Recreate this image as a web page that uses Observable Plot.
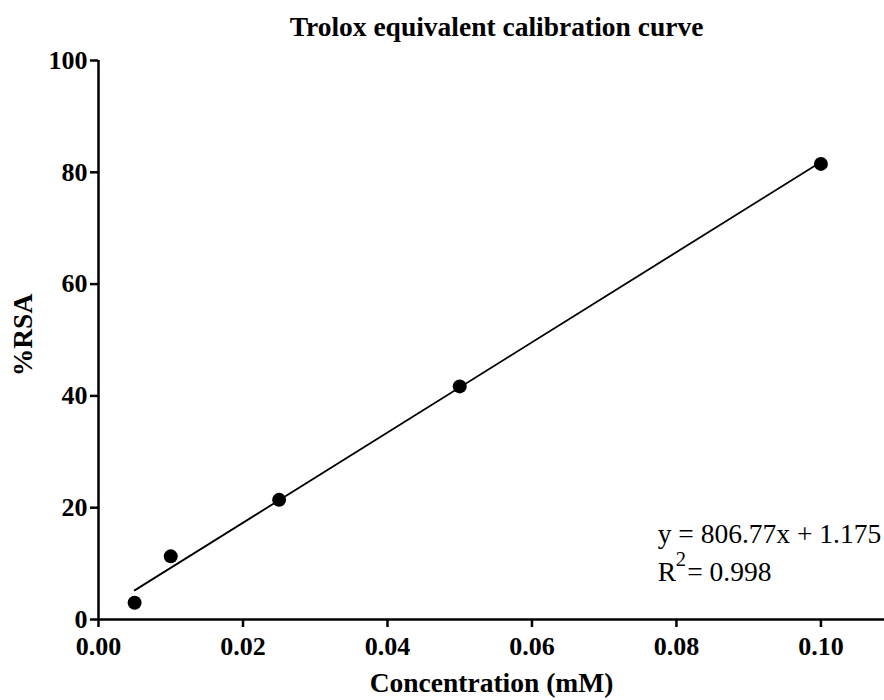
<!DOCTYPE html>
<html>
<head>
<meta charset="utf-8">
<script src="https://cdn.jsdelivr.net/npm/d3@7"></script>
<script src="https://cdn.jsdelivr.net/npm/@observablehq/plot@0.6"></script>
<style>
  body { margin: 0; background: #fff; }
  svg { font-family: "Liberation Serif", "Times New Roman", serif; }
</style>
</head>
<body>
<div id="chart"></div>
<script>
// Data
const concentration = [0.005, 0.01, 0.025, 0.05, 0.1];
const rsa = [3.0, 11.3, 21.4, 41.7, 81.5];
const fitX = [0.005, 0.1];
const fitY = [5.21, 81.85];
const xTicks = [0, 0.02, 0.04, 0.06, 0.08, 0.10];
const yTicks = [0, 20, 40, 60, 80, 100];
const titleText = "Trolox equivalent calibration curve";
const xLabel = "Concentration (mM)";
const yLabel = "%RSA";
const eqLine1 = "y = 806.77x + 1.175";
const eqLine2Parts = ["R", "2", "= 0.998"];

const points = concentration.map((c, i) => ({x: c, y: rsa[i]}));
const fit = fitX.map((c, i) => ({x: c, y: fitY[i]}));

const serif = "Liberation Serif, Times New Roman, serif";
const eqX = 0.0774;

const chart = Plot.plot({
  width: 884,
  height: 700,
  marginLeft: 98,
  marginRight: 0,
  marginTop: 60,
  marginBottom: 81,
  style: {fontFamily: serif, background: "#fff", color: "#000"},
  x: {domain: [0, 0.1088]},
  y: {domain: [0, 100]},
  marks: [
    Plot.axisX({ticks: xTicks, tickFormat: d3.format(".2f"), tickSize: 8, tickPadding: 9,
      fontSize: 26, fontWeight: "bold", strokeWidth: 2.5, label: null}),
    Plot.axisY({ticks: yTicks, tickSize: 8, tickPadding: 3,
      fontSize: 26, fontWeight: "bold", strokeWidth: 2.5, label: null}),
    Plot.ruleX([0], {strokeWidth: 2.5}),
    Plot.ruleY([0], {strokeWidth: 2.5}),
    Plot.line(fit, {x: "x", y: "y", stroke: "#000", strokeWidth: 1.8}),
    Plot.dot(points, {x: "x", y: "y", r: 7, fill: "#000", stroke: "none"}),
    Plot.text([titleText], {frameAnchor: "top", textAnchor: "middle", lineAnchor: "middle", dx: 5, dy: -33,
      text: d => d, fontSize: 27.5, fontWeight: "bold", fill: "#000"}),
    Plot.text([xLabel], {frameAnchor: "bottom", textAnchor: "middle", lineAnchor: "middle", dy: 64,
      text: d => d, fontSize: 27.5, fontWeight: "bold", fill: "#000"}),
    Plot.text([yLabel], {frameAnchor: "left", textAnchor: "middle", lineAnchor: "middle", dx: -75, dy: -5, rotate: -90,
      text: d => d, fontSize: 27.5, fontWeight: "bold", fill: "#000"}),
    Plot.text([eqLine1], {x: eqX, y: 15.3, text: d => d, textAnchor: "start", lineAnchor: "middle", fontSize: 27.5, fill: "#000"}),
    Plot.text([eqLine2Parts[0]], {x: eqX, y: 8.5, text: d => d, textAnchor: "start", lineAnchor: "middle", fontSize: 27.5, fill: "#000"}),
    Plot.text([eqLine2Parts[1]], {x: eqX, y: 8.5, dx: 18, dy: -13, text: d => d, textAnchor: "start", lineAnchor: "middle", fontSize: 20.5, fill: "#000"}),
    Plot.text([eqLine2Parts[2]], {x: eqX, y: 8.5, dx: 29.5, text: d => d, textAnchor: "start", lineAnchor: "middle", fontSize: 27.5, fill: "#000"})
  ]
});
document.getElementById("chart").appendChild(chart);
</script>
</body>
</html>
